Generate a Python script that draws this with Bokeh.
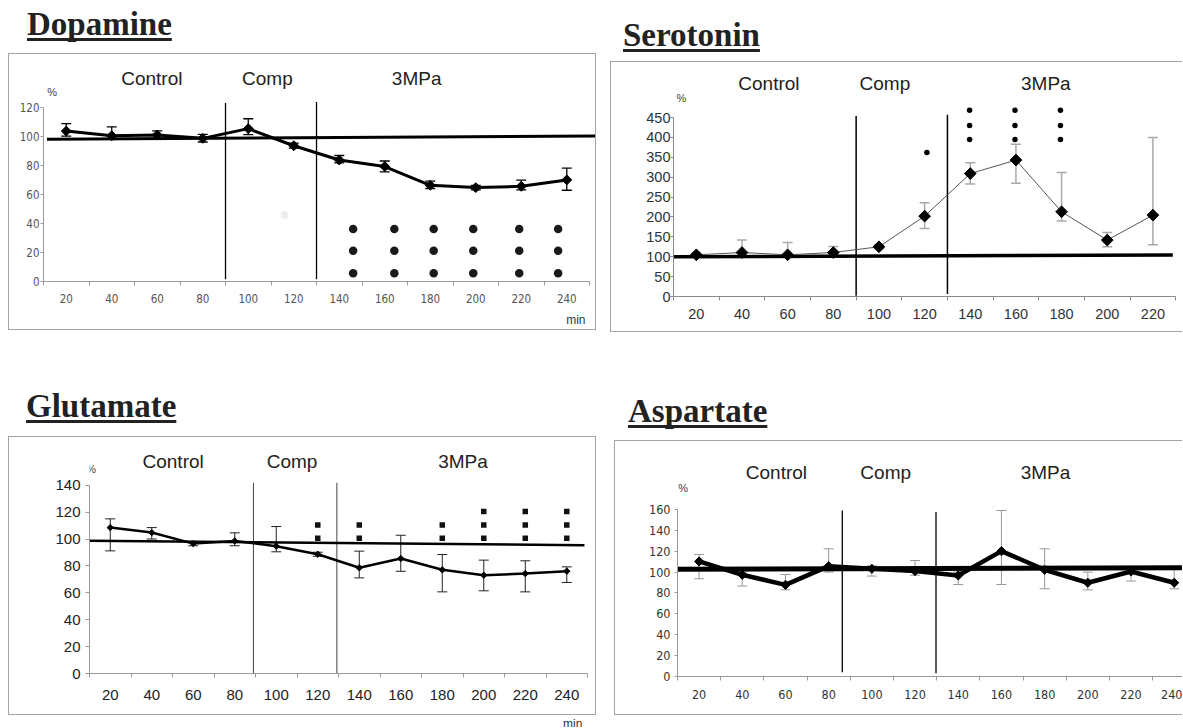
import numpy as np
from bokeh.plotting import figure
from bokeh.models import Range1d, FixedTicker, ColumnDataSource, Whisker, TeeHead, Label, Div, Title
from bokeh.layouts import column, row
from bokeh.embed import file_html
from bokeh.resources import INLINE
from bokeh.core.properties import value

# ---------------- data ----------------
minutes = [20, 40, 60, 80, 100, 120, 140, 160, 180, 200, 220, 240]
phases = ["Control", "Comp", "3MPa"]
phase_bounds = [90, 130]

# Dopamine
dop_mean = [103.5, 100.3, 100.8, 98.5, 105.2, 93.4, 83.6, 79.1, 66.2, 64.6, 65.5, 69.9]
dop_upper = [108.6, 106.4, 103.7, 101.2, 112.0, 95.2, 86.7, 82.9, 69.0, 66.2, 69.7, 78.0]
dop_lower = [100.0, 98.5, 98.5, 96.0, 101.0, 91.8, 81.6, 75.5, 64.0, 63.0, 63.0, 62.8]
dop_sig_x = [146.1, 164.2, 181.5, 198.9, 219.1, 236.2]
dop_sig_levels = [5.6, 21.2, 36.2]
dop_ref_x = [11.5, 252.5]
dop_ref_y = [97.8, 100.2]
dop_div_top = [122.8, 123.5]
dop_phase_x = [57.6, 108.4, 174.0]

# Serotonin
ser_minutes = minutes[:11]
ser_mean = [104.8, 110.6, 104.8, 110.6, 125.0, 202.0, 309.0, 343.0, 213.0, 141.8, 204.6]
ser_upper = [108.0, 141.8, 135.8, 125.7, 130.0, 235.5, 336.0, 383.0, 312.0, 161.0, 400.0]
ser_lower = [100.0, 100.0, 100.0, 100.0, 120.0, 171.0, 282.6, 285.0, 190.0, 125.0, 130.0]
ser_sig_cols = [139.7, 159.6, 179.5]
ser_sig_levels = [395, 430, 468]
ser_sig_single_x = [121.0]
ser_sig_single_y = [362.0]
ser_ref_x = [10, 228.7]
ser_ref_y = [100.0, 104.5]
ser_div_top = [454, 457]
ser_phase_x = [51.8, 102.6, 173.1]

# Glutamate
glu_mean = [108.5, 104.8, 96.6, 98.6, 94.7, 88.7, 78.6, 85.5, 77.1, 73.1, 74.3, 76.1]
glu_upper = [115.0, 108.5, 98.0, 104.6, 109.3, 90.2, 91.0, 102.8, 88.5, 84.3, 83.8, 79.3]
glu_lower = [91.2, 100.0, 95.0, 95.0, 90.5, 87.2, 71.1, 76.0, 60.7, 61.5, 60.7, 67.7]
glu_sig_cols = [120, 140, 180, 200, 220, 240]
glu_sig_counts = [2, 2, 2, 3, 3, 3]
glu_sig_levels = [100.5, 110.5, 120.5]
glu_ref_x = [10, 248.5]
glu_ref_y = [98.7, 95.4]
glu_div_x = [89.0, 129.2]
glu_div_top = [141.8, 141.8]
glu_phase_x = [50.3, 107.6, 190.0]

# Aspartate
asp_mean = [110.2, 97.4, 87.8, 105.7, 103.2, 101.0, 96.8, 120.1, 102.2, 89.8, 100.6, 89.8]
asp_upper = [116.9, 100.0, 97.7, 122.3, 106.0, 111.1, 100.0, 159.0, 122.3, 100.0, 104.0, 103.2]
asp_lower = [93.6, 86.6, 83.0, 100.0, 96.2, 97.0, 88.1, 88.1, 84.0, 83.0, 91.4, 84.0]
asp_ref_x = [10, 244.3]
asp_ref_y = [102.8, 104.1]
asp_div_x = [86.3, 129.7]
asp_div_top = [159.0, 157.5]
asp_div_bot = [4.0, 3.0]
asp_phase_x = [55.8, 106.4, 180.4]

SANS = "Liberation Sans"
NARROW = "DejaVu Sans Condensed, Liberation Sans Narrow, Liberation Sans"
BOX = "1px solid #a3a3a3"


def base_fig(width, height, x_end, y_end, mbl, mbb, x_ticks, y_ticks, axis_color,
             font, fsize, xstand, ystand, ytick_out, label_color, styles, margin):
    p = figure(width=width, height=height, x_range=Range1d(10, x_end), y_range=Range1d(0, y_end),
               output_backend="svg", toolbar_location=None, title=None,
               min_border_left=mbl, min_border_right=0, min_border_top=0, min_border_bottom=mbb,
               styles=styles, margin=margin, frame_align=False)
    p.grid.visible = False
    p.outline_line_color = None
    p.background_fill_color = "white"
    p.border_fill_color = "white"
    step = x_ticks[1] - x_ticks[0]
    edges = [t - step / 2 for t in x_ticks] + [x_ticks[-1] + step / 2]
    xa = p.xaxis[0]
    xa.ticker = FixedTicker(ticks=x_ticks, minor_ticks=edges)
    xa.bounds = (edges[0], edges[-1])
    xa.major_tick_in = 0
    xa.major_tick_out = 0
    xa.minor_tick_in = 0
    xa.minor_tick_out = 4
    xa.axis_line_color = axis_color
    xa.minor_tick_line_color = axis_color
    xa.major_label_text_font = font
    xa.major_label_text_font_size = fsize
    xa.major_label_text_color = label_color
    xa.major_label_standoff = xstand
    ya = p.yaxis[0]
    ya.ticker = FixedTicker(ticks=y_ticks)
    ya.bounds = (0, y_ticks[-1])
    ya.major_tick_in = 0
    ya.major_tick_out = ytick_out
    ya.minor_tick_line_color = None
    ya.axis_line_color = axis_color
    ya.major_tick_line_color = axis_color
    ya.major_label_text_font = font
    ya.major_label_text_font_size = fsize
    ya.major_label_text_color = label_color
    ya.major_label_standoff = ystand
    return p


def add_common(p, phase_x, phase_y, pct_x, pct_y, pct_align, ref_x, ref_y, ref_w,
               div_x, div_bot, div_top, div_w, div_color):
    p.segment(x0=div_x, y0=div_bot, x1=div_x, y1=div_top, line_color=div_color, line_width=div_w)
    p.line(ref_x, ref_y, line_color="black", line_width=ref_w)
    p.text(x=phase_x, y=[phase_y] * 3, text=phases, text_align="center", text_baseline="middle",
           text_font=value(SANS), text_font_size=value("19px"), text_color="#222222")
    p.add_layout(Label(x=pct_x, y=pct_y, text="%", text_align=pct_align, text_baseline="middle",
                       text_font=SANS, text_font_size="11px", text_color="#444444"))


def add_series(p, xs, mean, upper, lower, line_color, line_w, err_color, err_w, msize):
    src = ColumnDataSource(dict(x=xs, y=mean, upper=upper, lower=lower))
    p.add_layout(Whisker(source=src, base="x", upper="upper", lower="lower",
                         line_color=err_color, line_width=err_w,
                         upper_head=TeeHead(size=10, line_color=err_color, line_width=err_w),
                         lower_head=TeeHead(size=10, line_color=err_color, line_width=err_w)))
    p.line("x", "y", source=src, line_color=line_color, line_width=line_w)
    p.scatter("x", "y", source=src, marker="square", angle=np.pi / 4, size=msize,
              fill_color="black", line_color="black")


def title_div(text, width, height, left, top, margin=0):
    html = ('<div style="position:relative;width:%dpx;height:%dpx;overflow:visible">'
            '<span style="position:absolute;left:%dpx;top:%dpx;font-family:\'Liberation Serif\';'
            'font-weight:bold;font-size:33px;line-height:33px;color:#222;white-space:nowrap;'
            'text-decoration:underline;text-decoration-thickness:3px;text-underline-offset:3px;'
            'text-decoration-skip-ink:none">%s</span></div>') % (width, height, left, top, text)
    return Div(text=html, width=width, height=height, margin=margin)


# ---------------- Dopamine ----------------
p1 = base_fig(588, 277, 253.5, 156.2, 34, 44, minutes, [0, 20, 40, 60, 80, 100, 120], "#9a9a9a",
              NARROW, "11.5px", 8, 1, 3, "#555555", {"border": BOX}, 0)
add_common(p1, dop_phase_x, 139.4, 13.8, 130.3, "center", dop_ref_x, dop_ref_y, 3,
           phase_bounds, [1.5, 1.5], dop_div_top, 1.3, "black")
p1.scatter([116.0], [45.8], marker="circle", size=8, fill_color="#eeeeee", line_color=None)
p1.scatter([x for x in dop_sig_x for _ in dop_sig_levels], [y for _ in dop_sig_x for y in dop_sig_levels],
           marker="circle", size=8.5, fill_color="#1a1a1a", line_color=None)
add_series(p1, minutes, dop_mean, dop_upper, dop_lower, "black", 3, "black", 1.3, 7)
p1.add_layout(Title(text="min", align="right", offset=12, standoff=10, vertical_align="bottom",
                    text_font=SANS, text_font_size="12px", text_font_style="normal",
                    text_color="#333333"), "below")

# ---------------- Serotonin ----------------
p2 = base_fig(572, 271, 233.4, 588.3, 62, 37, ser_minutes, [0, 50, 100, 150, 200, 250, 300, 350, 400, 450],
              "#8a8a8a", SANS, "14.5px", 8, 0, 3, "#333333",
              {"border-top": BOX, "border-left": BOX, "border-bottom": BOX}, (0, 0, 0, 12))
add_common(p2, ser_phase_x, 536.7, 13.5, 500, "center", ser_ref_x, ser_ref_y, 3.5,
           phase_bounds, [2, 6], ser_div_top, 1.5, "black")
p2.scatter([x for x in ser_sig_cols for _ in ser_sig_levels] + ser_sig_single_x,
           [y for _ in ser_sig_cols for y in ser_sig_levels] + ser_sig_single_y,
           marker="circle", size=5.5, fill_color="black", line_color=None)
add_series(p2, ser_minutes, ser_mean, ser_upper, ser_lower, "#555555", 1, "#aaaaaa", 1.5, 8.3)

# ---------------- Glutamate ----------------
p3 = base_fig(588, 279, 254.8, 175.5, 80, 43, minutes, [0, 20, 40, 60, 80, 100, 120, 140], "#9a9a9a",
              SANS, "15px", 12, 5, 4, "#222222", {"border": BOX}, 0)
add_common(p3, glu_phase_x, 157.6, 10.8, 152.4, "center", glu_ref_x, glu_ref_y, 2.5,
           glu_div_x, [0, 0], glu_div_top, 1, "#444444")
gx = [x for x, n in zip(glu_sig_cols, glu_sig_counts) for k in range(n)]
gy = [glu_sig_levels[k] for x, n in zip(glu_sig_cols, glu_sig_counts) for k in range(n)]
p3.scatter(gx, gy, marker="square", size=5.5, fill_color="#111111", line_color=None)
add_series(p3, minutes, glu_mean, glu_upper, glu_lower, "black", 2.5, "#222222", 1, 4.5)

# ---------------- Aspartate ----------------
p4 = base_fig(568, 275, 244.3, 225.1, 62, 40, minutes, [0, 20, 40, 60, 80, 100, 120, 140, 160],
              "#9a9a9a", NARROW, "12.5px", 9, 4, 3, "#333333",
              {"border-top": BOX, "border-left": BOX, "border-bottom": BOX}, (0, 0, 0, 16))
add_common(p4, asp_phase_x, 195.4, 10.3, 180.3, "left", asp_ref_x, asp_ref_y, 5,
           asp_div_x, asp_div_bot, asp_div_top, 1.3, "black")
add_series(p4, minutes, asp_mean, asp_upper, asp_lower, "black", 4.5, "#999999", 1, 6.5)

# ---------------- layout ----------------
d1 = title_div("Dopamine", 590, 45, 19, 0)
d2 = title_div("Serotonin", 577, 53, 25, 11)
d3 = title_div("Glutamate", 590, 106, 18, 60)
d4 = title_div("Aspartate", 585, 108, 30, 63)
d5 = Div(text=('<div style="position:relative;width:590px;height:8px;overflow:hidden">'
               '<span style="position:absolute;left:555px;top:-1px;font-family:\'Liberation Sans\';'
               'font-size:12px;line-height:12px;color:#333">min</span></div>'),
         width=590, height=8, margin=0)

left = column(d1, p1, d3, p3, d5, spacing=0, margin=0)
right = column(d2, p2, d4, p4, spacing=0, margin=0)
layout = row(left, right, spacing=0, margin=(8, 0, 0, 8))

open("out.html", "w").write(file_html(layout, INLINE))
